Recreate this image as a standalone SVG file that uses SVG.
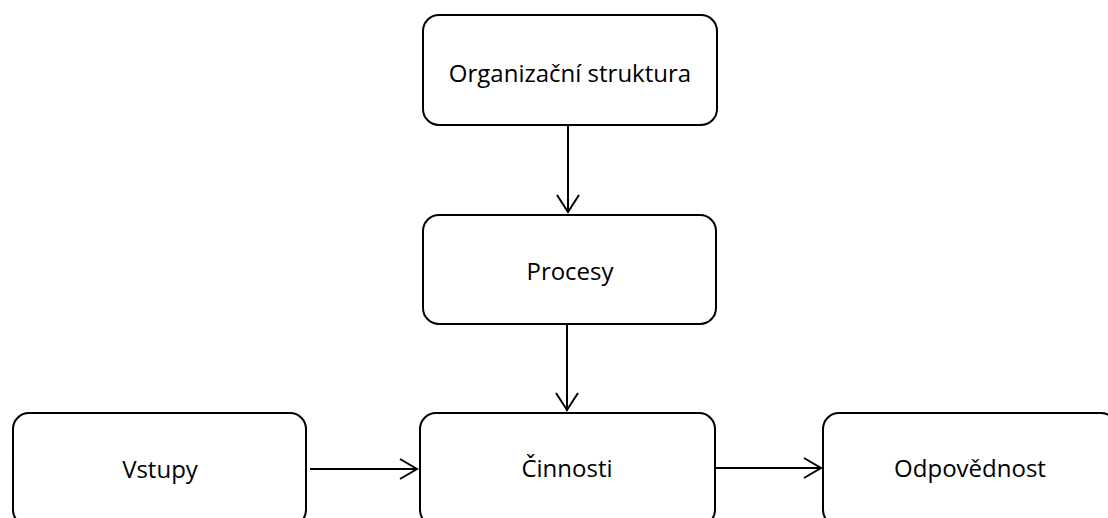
<svg xmlns="http://www.w3.org/2000/svg" width="1108" height="518" viewBox="0 0 1108 518">
  <style>
    .box { fill: #ffffff; stroke: #000000; stroke-width: 2; }
    .label { font-family: "Open Sans", "Liberation Sans", sans-serif; font-size: 24px; fill: #000000; text-anchor: middle; }
    .edge { fill: none; stroke: #000000; stroke-width: 2; }
    .head { fill: none; stroke: #000000; stroke-width: 2; stroke-linejoin: miter; }
  </style>
  <rect width="1108" height="518" fill="#ffffff"/>

  <g id="connectors">
    <!-- Organizační struktura -> Procesy -->
    <line class="edge" x1="568" y1="125" x2="568" y2="213"/>
    <polyline class="head" points="557,195 568,212 579,195"/>
    <!-- Procesy -> Činnosti -->
    <line class="edge" x1="567" y1="324" x2="567" y2="411"/>
    <polyline class="head" points="556,393 567,410 578,393"/>
    <!-- Vstupy -> Činnosti -->
    <line class="edge" x1="310" y1="469" x2="417" y2="469"/>
    <polyline class="head" points="400,459 417,469 400,479"/>
    <!-- Činnosti -> Odpovědnost -->
    <line class="edge" x1="715" y1="468" x2="821" y2="468"/>
    <polyline class="head" points="804,458 821,468 804,478"/>
  </g>

  <g id="node-organizacni-struktura">
    <rect class="box" x="423" y="15" width="294" height="110" rx="16" ry="16"/>
    <text class="label" x="570" y="82">Organizační struktura</text>
  </g>

  <g id="node-procesy">
    <rect class="box" x="423" y="215" width="293" height="109" rx="16" ry="16"/>
    <text class="label" x="570" y="280">Procesy</text>
  </g>

  <!-- bottom row runs past the lower edge of the canvas -->
  <g id="node-vstupy">
    <rect class="box" x="13" y="413" width="293" height="113" rx="16" ry="16"/>
    <text class="label" x="160" y="478">Vstupy</text>
  </g>

  <g id="node-cinnosti">
    <rect class="box" x="420" y="413" width="295" height="113" rx="16" ry="16"/>
    <text class="label" x="567" y="477">Činnosti</text>
  </g>

  <g id="node-odpovednost">
    <rect class="box" x="823" y="413" width="294" height="113" rx="16" ry="16"/>
    <text class="label" x="970" y="477">Odpovědnost</text>
  </g>
</svg>
